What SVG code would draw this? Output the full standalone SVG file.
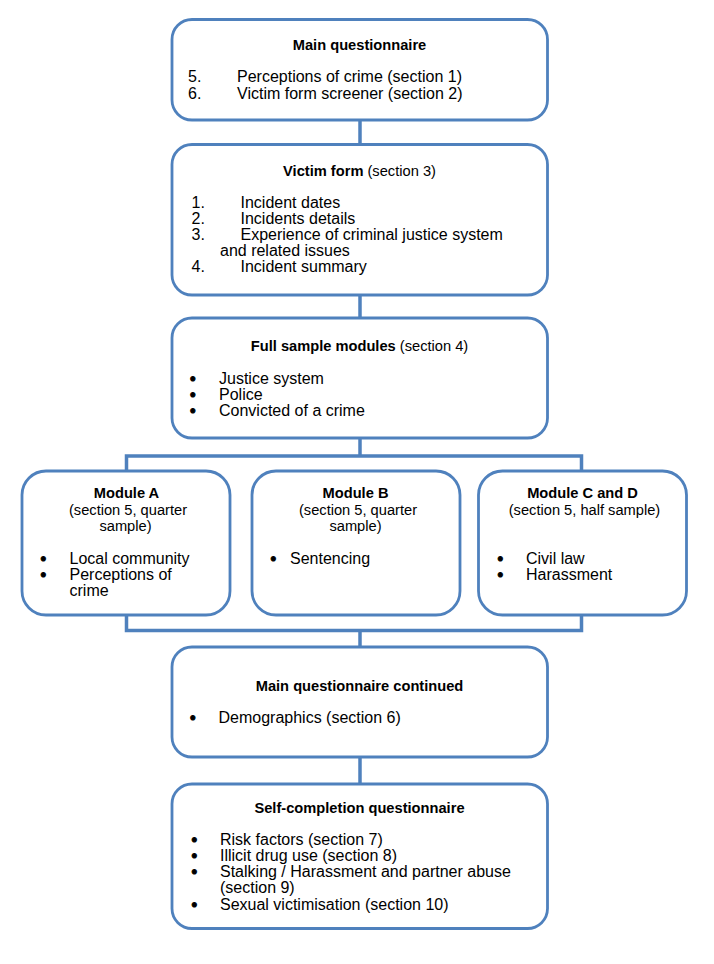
<svg xmlns="http://www.w3.org/2000/svg" width="714" height="964" viewBox="0 0 714 964">
<style>
.box{fill:#ffffff;stroke:#4F81BD;stroke-width:2.8}
.con{fill:none;stroke:#4F81BD;stroke-width:3.5}
text{font-family:"Liberation Sans",Arial,sans-serif;fill:#000000}
.t{font-size:14.67px;font-weight:bold}
.s{font-size:14.67px}
.b{font-size:16px}
.d{font-size:16px;stroke:#000000;stroke-width:1.1}
.m{text-anchor:middle}
</style>
<rect width="714" height="964" fill="#ffffff"/>
<g id="connectors">
<line class="con" x1="360" y1="120" x2="360" y2="145"/>
<line class="con" x1="360" y1="295" x2="360" y2="318"/>
<line class="con" x1="360" y1="438" x2="360" y2="456"/>
<polyline class="con" points="126.5,471 126.5,456 581.5,456 581.5,471"/>
<polyline class="con" points="126.5,615 126.5,630.5 581.5,630.5 581.5,615"/>
<line class="con" x1="360" y1="630.5" x2="360" y2="647"/>
<line class="con" x1="360" y1="757" x2="360" y2="784"/>
</g>
<g id="main">
<rect class="box" x="172" y="19.5" width="375.5" height="100.5" rx="20"/>
<text class="t m" x="359.5" y="50">Main questionnaire</text>
<text class="b" x="188" y="82">5.</text>
<text class="b" x="237" y="82">Perceptions of crime (section 1)</text>
<text class="b" x="188" y="98.5">6.</text>
<text class="b" x="237" y="98.5">Victim form screener (section 2)</text>
</g>
<g id="victim">
<rect class="box" x="172" y="144.5" width="375.5" height="150.5" rx="20"/>
<text class="m" x="359.5" y="176"><tspan class="t">Victim form</tspan><tspan class="s"> (section 3)</tspan></text>
<text class="b" x="191.5" y="208">1.</text>
<text class="b" x="240.5" y="208">Incident dates</text>
<text class="b" x="191.5" y="224">2.</text>
<text class="b" x="240.5" y="224">Incidents details</text>
<text class="b" x="191.5" y="240">3.</text>
<text class="b" x="240.5" y="240">Experience of criminal justice system</text>
<text class="b" x="220" y="256">and related issues</text>
<text class="b" x="191.5" y="272">4.</text>
<text class="b" x="240.5" y="272">Incident summary</text>
</g>
<g id="fullsample">
<rect class="box" x="172" y="318" width="375.5" height="120" rx="20"/>
<text class="m" x="359.5" y="351"><tspan class="t">Full sample modules</tspan><tspan class="s"> (section 4)</tspan></text>
<text class="d" x="190" y="384">•</text>
<text class="b" x="219" y="384">Justice system</text>
<text class="d" x="190" y="400">•</text>
<text class="b" x="219" y="400">Police</text>
<text class="d" x="190" y="416">•</text>
<text class="b" x="219" y="416">Convicted of a crime</text>
</g>
<g id="moduleA">
<rect class="box" x="22" y="471" width="208" height="144" rx="24"/>
<text class="t m" x="126.5" y="498">Module A</text>
<text class="s m" x="128" y="515">(section 5, quarter</text>
<text class="s m" x="125.5" y="531">sample)</text>
<text class="d" x="40.5" y="564">•</text>
<text class="b" x="69.5" y="564">Local community</text>
<text class="d" x="40.5" y="580">•</text>
<text class="b" x="69.5" y="580">Perceptions of</text>
<text class="b" x="69.5" y="596">crime</text>
</g>
<g id="moduleB">
<rect class="box" x="252" y="471" width="208" height="144" rx="24"/>
<text class="t m" x="355.5" y="498">Module B</text>
<text class="s m" x="358" y="515">(section 5, quarter</text>
<text class="s m" x="355.5" y="531">sample)</text>
<text class="d" x="270.5" y="564">•</text>
<text class="b" x="290" y="564">Sentencing</text>
</g>
<g id="moduleCD">
<rect class="box" x="478.5" y="471" width="208" height="144" rx="24"/>
<text class="t m" x="582.5" y="498">Module C and D</text>
<text class="s m" x="584.5" y="515">(section 5, half sample)</text>
<text class="d" x="497.5" y="564">•</text>
<text class="b" x="526" y="564">Civil law</text>
<text class="d" x="497.5" y="580">•</text>
<text class="b" x="526" y="580">Harassment</text>
</g>
<g id="maincontinued">
<rect class="box" x="172" y="647" width="375.5" height="110" rx="20"/>
<text class="t m" x="359.5" y="691">Main questionnaire continued</text>
<text class="d" x="190" y="723">•</text>
<text class="b" x="218.5" y="723">Demographics (section 6)</text>
</g>
<g id="selfcompletion">
<rect class="box" x="172" y="784" width="375.5" height="144.5" rx="20"/>
<text class="t m" x="359.5" y="812.5">Self-completion questionnaire</text>
<text class="d" x="191.5" y="845">•</text>
<text class="b" x="220" y="845">Risk factors (section 7)</text>
<text class="d" x="191.5" y="861">•</text>
<text class="b" x="220" y="861">Illicit drug use (section 8)</text>
<text class="d" x="191.5" y="877">•</text>
<text class="b" x="220" y="877">Stalking / Harassment and partner abuse</text>
<text class="b" x="220" y="893">(section 9)</text>
<text class="d" x="191.5" y="910">•</text>
<text class="b" x="220" y="910">Sexual victimisation (section 10)</text>
</g>
</svg>
